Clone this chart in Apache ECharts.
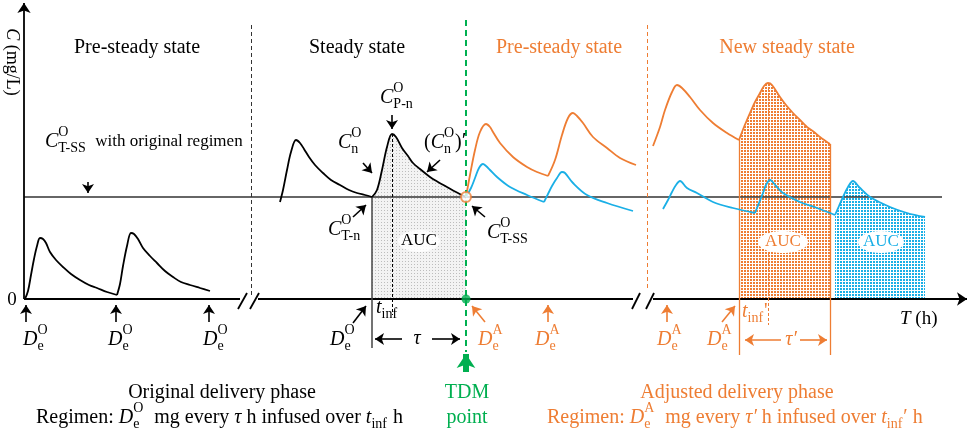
<!DOCTYPE html>
<html><head><meta charset="utf-8">
<script src="https://cdn.jsdelivr.net/npm/echarts@6/dist/echarts.min.js"></script>
<style>html,body{margin:0;padding:0;background:#fff}#c{width:969px;height:441px}</style>
</head><body><div id="c"></div>
<script>
// ---- data (T in arbitrary time units, C in arbitrary concentration units) ----
const preSteadyCycle1 = [[1,0],[4,8],[7,24],[10,40],[13,53],[16,61],[19,60],[22,56],[26,47],[32,39],[39,32],[47,25],[56,19],[65,14],[73,11],[83,7],[93,4]];
const preSteadyCycle2 = [[93,4],[96,15],[99,33],[103,53],[107,66],[110,65],[114,60],[119,51],[126,43],[133,36],[141,28],[149,22],[157,17],[166,14],[176,11],[186,8]];
const steadyCycle1 = [[256,97],[259,109],[263,129],[267,147],[272,159],[276,156],[280,150],[285,142],[291,134],[299,126],[307,119],[316,114],[325,109],[333,106],[341,104],[348,102]];
const steadyCycle2 = [[348,102],[353,109],[358,129],[363,152],[368,165],[372,162],[378,151],[384,143],[389,136],[396,130],[406,122],[414,117],[423,112],[432,107],[442,102]];
const orangePre1 = [[442,102],[446,124],[451,149],[456,167],[462,175],[466,172],[469,167],[476,156],[489,142],[503,132],[513,127],[524,123]];
const orangePre2 = [[524,123],[531,139],[538,164],[544,181],[549,186],[553,183],[559,176],[569,162],[583,151],[596,141],[612,134]];
const bluePre1 = [[442,102],[447,111],[451,121],[455,131],[459,135],[462,133],[466,129],[473,122],[486,112],[503,104],[520,97]];
const bluePre2 = [[520,97],[524,105],[528,113],[533,121],[538,127],[541,126],[549,116],[563,104],[583,96],[609,88]];
const orangeNew1 = [[629,153],[636,172],[641,189],[648,207],[653,214],[658,211],[666,202],[676,189],[689,176],[703,166],[715,159]];
const orangeNew2 = [[715,159],[720,172],[726,186],[731,197],[736,206],[740,213],[744,216],[748,214],[756,202],[762,194],[769,186],[776,179],[783,172],[790,167],[796,162],[806,155]];
const blueNew1 = [[639,90],[644,99],[648,107],[652,114],[656,118],[663,111],[673,106],[689,97],[709,91],[731,86]];
const blueNew2 = [[731,86],[735,96],[739,106],[742,114],[746,119],[752,113],[759,106],[776,97],[793,91],[811,84]];
const blueNew3 = [[811,84],[815,93],[819,102],[824,112],[829,118],[835,112],[846,102],[866,92],[883,86],[901,82]];

const refLevel = 102;            // C_T-SS with original regimen
const refLineSpan = [0, 918];
const yAxisTop = 296;
const xAxisSegments = [[0,216],[234,609],[629,943]];
const breakSlashes = [[[214,-10],[223,6]],[[226,-10],[235,6]],[[608,-10],[616,6]],[[622,-10],[630,6]]];
const phaseDividerBlack = [[227,274],[227,2]];
const phaseDividerOrange = [[623,274],[623,10]];
const tdmTime = 442;
const tdmLine = [[tdmTime,279],[tdmTime,-53]];
const tdmArrow = [[tdmTime,-73],[tdmTime,-55]];
const bracketLow = -49, bracketLowNew = -56, tinfLow = -16, tinfLowNew = -26;
const arrowsBlack = [
  [[64,117],[64,106]],
  [[368,184],[368,170]],
  [[339,136],[348,126]],
  [[416,139],[403,127]],
  [[329,82],[342,94]],
  [[461,82],[448,93]],
  [[2,-23],[2,-6]],[[92,-23],[92,-6]],[[185,-23],[185,-6]],
  [[329,-24],[342,-7]],
  [[378,-40],[351,-40]],[[408,-40],[436,-40]]
];
const arrowsOrange = [
  [[461,-23],[448,-7]],[[524,-23],[524,-6]],[[643,-23],[643,-6]],[[698,-23],[711,-7]],
  [[757,-41],[721,-41]],[[776,-41],[803,-41]]
];

// ---- styles ----
const BLACK = '#000', ORANGE = '#EE7D33', BLUE = '#1AAFE6', GREEN = '#00AF50';
const FONT = '"Liberation Serif", "Times New Roman", serif';

function pattern(bg, dot, size, d){
  const c = document.createElement('canvas'); c.width = c.height = size;
  const g = c.getContext('2d'); g.fillStyle = bg; g.fillRect(0,0,size,size);
  g.fillStyle = dot; g.fillRect(0,0,d,d);
  return {image: c, repeat: 'repeat'};
}
const mctx = document.createElement('canvas').getContext('2d');
function tw(text, size, italic){ mctx.font = (italic?'italic ':'') + size + 'px ' + FONT; return mctx.measureText(text).width; }
function mathText(tokens, x, y, opt){
  opt = opt || {};
  const size = opt.size || 20, color = opt.color || BLACK;
  const supS = Math.round(size*0.72), subS = Math.round(size*0.68);
  const items = []; let cx = 0;
  tokens.forEach(tk => {
    if (typeof tk === 'string') tk = {t: tk};
    if (tk.t !== undefined) {
      const s = tk.size || size;
      items.push({text: tk.t, x: cx, dy: tk.dy || 0, size: s, italic: !!tk.i});
      cx += tw(tk.t, s, tk.i);
    } else {
      let wmax = 0;
      if (tk.sup) { items.push({text: tk.sup, x: cx, dy: -size*0.5, size: supS}); wmax = Math.max(wmax, tw(tk.sup, supS)); }
      if (tk.sub) { items.push({text: tk.sub, x: cx, dy: size*0.33, size: subS}); wmax = Math.max(wmax, tw(tk.sub, subS)); }
      cx += wmax + 1;
    }
  });
  const x0 = opt.align === 'center' ? x - cx/2 : x;
  return items.map(it => ({type:'text', silent:true, z:10, x: x0 + it.x, y: y + it.dy,
    style:{text: it.text, font: (it.italic?'italic ':'') + it.size + 'px ' + FONT, fill: color, align:'left', verticalAlign:'middle'}}));
}

const C = {t:'C', i:true}, D = {t:'D', i:true};
let graphics = [];
graphics.push({type:'text', silent:true, x:12, y:62, rotation:-Math.PI/2,
  style:{text:'{i|C} (mg/L)', rich:{i:{fontStyle:'italic', fontFamily:FONT, fontSize:18, fill:BLACK}}, font:'18px '+FONT, fill:BLACK, align:'center', verticalAlign:'middle'}});
graphics = graphics.concat(
  mathText(['0'], 12, 300, {align:'center', size:19}),
  mathText(['Pre-steady state'], 137, 48, {align:'center'}),
  mathText(['Steady state'], 357, 48, {align:'center'}),
  mathText(['Pre-steady state'], 559, 48, {align:'center', color:ORANGE}),
  mathText(['New steady state'], 787, 48, {align:'center', color:ORANGE}),
  mathText([C, {sup:'O', sub:'T-SS'}, {t:'  with original regimen', size:17}], 45, 142),
  mathText([C, {sup:'O', sub:'P-n'}], 380, 98),
  mathText([C, {sup:'O', sub:'n'}], 338, 143),
  mathText(['(', C, {sup:'O', sub:'n'}, ')', {t:'′', size:22, dy:-2}], 424, 143),
  mathText([C, {sup:'O', sub:'T-n'}], 328, 230),
  mathText([C, {sup:'O', sub:'T-SS'}], 487, 233),
  mathText([D, {sup:'O', sub:'e'}], 23, 340),
  mathText([D, {sup:'O', sub:'e'}], 108, 340),
  mathText([D, {sup:'O', sub:'e'}], 203, 340),
  mathText([D, {sup:'O', sub:'e'}], 330, 340),
  mathText([{t:'t', i:true}, {sub:'inf'}], 376, 308),
  mathText([{t:'τ', i:true}], 417, 339, {align:'center'}),
  mathText([D, {sup:'A', sub:'e'}], 478, 340, {color:ORANGE}),
  mathText([D, {sup:'A', sub:'e'}], 535, 340, {color:ORANGE}),
  mathText([D, {sup:'A', sub:'e'}], 657, 340, {color:ORANGE}),
  mathText([D, {sup:'A', sub:'e'}], 707, 340, {color:ORANGE}),
  mathText([{t:'t', i:true}, {sub:'inf'}, "'"], 742, 312, {color:ORANGE}),
  mathText([{t:'τ′', i:true}], 791, 340, {align:'center', color:ORANGE}),
  mathText([{t:'T', i:true}, ' (h)'], 900, 319, {size:19}),
  mathText(['TDM'], 467, 393, {align:'center', color:GREEN}),
  mathText(['point'], 467, 418, {align:'center', color:GREEN}),
  mathText(['Original delivery phase'], 222, 393, {align:'center'}),
  mathText(['Regimen: ', D, {sup:'O', sub:'e'}, '  mg every ', {t:'τ', i:true}, ' h infused over ', {t:'t', i:true}, {sub:'inf'}, ' h'], 36, 418),
  mathText(['Adjusted delivery phase'], 737, 393, {align:'center', color:ORANGE}),
  mathText(['Regimen: ', D, {sup:'A', sub:'e'}, '  mg every ', {t:'τ′', i:true}, ' h infused over ', {t:'t', i:true}, {sub:'inf'}, '′ h'], 547, 418, {color:ORANGE})
);
// AUC labels
graphics.push({type:'ellipse', silent:true, z:9, shape:{cx:419, cy:241, rx:21, ry:11}, style:{fill:'rgba(255,255,255,0.85)'}});
graphics.push({type:'ellipse', silent:true, z:9, shape:{cx:783, cy:242, rx:25, ry:11}, style:{fill:'#fff'}});
graphics.push({type:'ellipse', silent:true, z:9, shape:{cx:881, cy:242, rx:23, ry:11}, style:{fill:'#fff'}});
graphics = graphics.concat(
  mathText(['AUC'], 419, 241, {align:'center', size:17}),
  mathText(['AUC'], 783, 242, {align:'center', size:17, color:ORANGE}),
  mathText(['AUC'], 881, 242, {align:'center', size:17, color:BLUE})
);

function curve(data, color, z){ return {type:'line', data, smooth:0.35, symbol:'none', silent:true, z: z||4, lineStyle:{color, width:1.8}}; }
function fill(data, pat){ return {type:'line', data, symbol:'none', silent:true, z:1, lineStyle:{width:0, opacity:0}, areaStyle:{color:pat, opacity:1, origin:'auto'}, smooth:0.35}; }
function segs(list, color, width, type, arrow, size, z){
  return {type:'lines', coordinateSystem:'cartesian2d', silent:true, z: z||3, polyline:false,
    data: list.map(c => ({coords:c})), symbol: arrow ? ['none','arrow'] : ['none','none'], symbolSize: size||8,
    lineStyle:{color, width, type: type||'solid', opacity:1}};
}
const first = a => a[0], last = a => a[a.length-1];
const peak = a => a.reduce((m,p)=>p[1]>m[1]?p:m, a[0]);

const series = [
  fill(steadyCycle2, pattern('#f3f3f3', '#bdbdbd', 3, 1)),
  fill(orangeNew2, pattern('#ffffff', ORANGE, 3, 2)),
  fill(blueNew3, pattern('#ffffff', BLUE, 3, 2)),
  segs([[[refLineSpan[0],refLevel],[refLineSpan[1],refLevel]]], '#333', 1.5, 'solid', false, 0, 2),
  segs(xAxisSegments.slice(0,2).map(s=>[[s[0],0],[s[1],0]]).concat(breakSlashes), BLACK, 1.8),
  segs([[[xAxisSegments[2][0],0],[xAxisSegments[2][1],0]],[[0,0],[0,yAxisTop]]], BLACK, 1.8, 'solid', true, 10),
  segs([phaseDividerBlack], '#333', 1, [4,3]),
  segs([phaseDividerOrange], ORANGE, 1, [4,3]),
  segs([[[first(steadyCycle2)[0], refLevel],[first(steadyCycle2)[0], bracketLow]]], '#444', 1.5),
  segs([[peak(steadyCycle2), [peak(steadyCycle2)[0], tinfLow]]], BLACK, 1, [3,2]),
  segs([[first(orangeNew2), [first(orangeNew2)[0], bracketLowNew]], [last(orangeNew2), [last(orangeNew2)[0], bracketLowNew]]], ORANGE, 1.3),
  segs([[peak(orangeNew2), [peak(orangeNew2)[0], tinfLowNew]]], ORANGE, 1, [3,2]),
  segs([tdmLine], GREEN, 2, [6,4], false, 0, 5),
  segs([tdmArrow], GREEN, 6, 'solid', true, 14, 5),
  segs(arrowsBlack, BLACK, 1.6, 'solid', true, 9, 6),
  segs(arrowsOrange, ORANGE, 1.6, 'solid', true, 9, 6),
  curve(preSteadyCycle1, BLACK), curve(preSteadyCycle2, BLACK),
  curve(steadyCycle1, BLACK), curve(steadyCycle2, BLACK),
  curve(orangePre1, ORANGE), curve(orangePre2, ORANGE),
  curve(bluePre1, BLUE), curve(bluePre2, BLUE),
  curve(orangeNew1, ORANGE), curve(orangeNew2, ORANGE),
  curve(blueNew1, BLUE), curve(blueNew2, BLUE), curve(blueNew3, BLUE),
  {type:'scatter', silent:true, z:7, data:[[tdmTime, 0]], symbolSize:9, itemStyle:{color:GREEN}},
  {type:'scatter', silent:true, z:7, data:[[tdmTime, refLevel]], symbolSize:10, itemStyle:{color:'#fff', borderColor:ORANGE, borderWidth:2}}
];

const chart = echarts.init(document.getElementById('c'), null, {renderer:'canvas'});
chart.setOption({
  animation:false,
  backgroundColor:'#fff',
  grid:{left:0, right:0, top:0, bottom:0},
  xAxis:{type:'value', min:-24, max:945, show:false},
  yAxis:{type:'value', min:-142, max:299, show:false},
  series,
  graphic: graphics
});
</script></body></html>
